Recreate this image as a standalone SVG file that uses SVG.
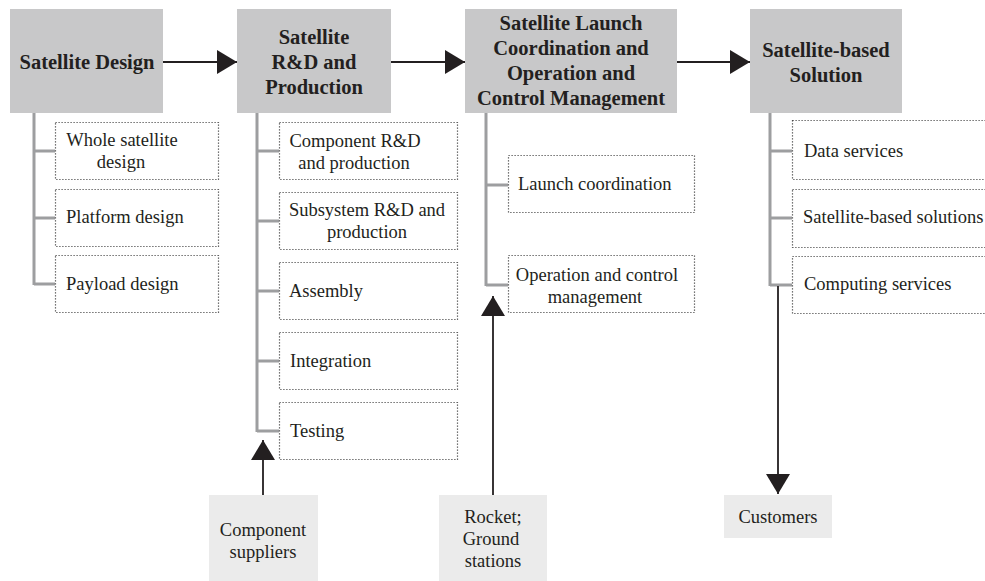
<svg xmlns="http://www.w3.org/2000/svg" width="985" height="581" viewBox="0 0 985 581">
  <defs>
    <marker id="arrow" markerUnits="userSpaceOnUse" markerWidth="22" markerHeight="26" refX="20" refY="12" orient="auto">
      <path d="M0,0 L20,12 L0,24 z" fill="#231f20"/>
    </marker>
    <style>
      .stage { fill: #c8c8c9; }
      .ext { fill: #ebebeb; }
      .item { fill: none; stroke: #4a4a4a; stroke-width: 1.2; stroke-dasharray: 1.2 1.8; }
      .tree { fill: none; stroke: #9d9ea0; stroke-width: 3; }
      .flow { fill: none; stroke: #231f20; stroke-width: 1.8; marker-end: url(#arrow); }
      text { font-family: "Liberation Serif", "Times New Roman", serif; fill: #231f20; }
      .h { font-size: 20.5px; font-weight: bold; text-anchor: middle; }
      .t { font-size: 18.5px; }
      .c { text-anchor: middle; }
    </style>
  </defs>

  <!-- connectors: tree branches and flow arrows -->
  <g id="connectors">
    <path class="tree" d="M34,113 V285 M34,151 H55 M34,218 H55 M34,284 H55"/>
    <path class="tree" d="M257,113 V432 M257,151 H279 M257,221 H279 M257,291 H279 M257,361 H279 M257,431 H279"/>
    <path class="tree" d="M486,113 V286 M486,185 H508 M486,285 H508"/>
    <path class="tree" d="M770,113 V286 M770,151 H792 M770,218 H792 M770,285 H792"/>
    <line class="flow" x1="163" y1="62" x2="237" y2="62"/>
    <line class="flow" x1="391" y1="62" x2="465" y2="62"/>
    <line class="flow" x1="677" y1="62" x2="750" y2="62"/>
    <line class="flow" x1="263" y1="495" x2="263" y2="440"/>
    <line class="flow" x1="493" y1="495" x2="493" y2="296"/>
    <line class="flow" x1="778" y1="286" x2="778" y2="494"/>
  </g>

  <!-- stage 1 -->
  <g id="satellite-design">
    <rect class="stage" x="10" y="9" width="153" height="104"/>
    <text class="h" x="87" y="69">Satellite Design</text>
  </g>
  <g id="whole-satellite-design">
    <rect class="item" x="55.5" y="122.5" width="163" height="57"/>
    <text class="t c" x="122" y="146">Whole satellite</text>
    <text class="t c" x="121" y="168">design</text>
  </g>
  <g id="platform-design">
    <rect class="item" x="55.5" y="189.5" width="163" height="57"/>
    <text class="t" x="66" y="223">Platform design</text>
  </g>
  <g id="payload-design">
    <rect class="item" x="55.5" y="255.5" width="163" height="57"/>
    <text class="t" x="66" y="290">Payload design</text>
  </g>

  <!-- stage 2 -->
  <g id="rd-production">
    <rect class="stage" x="237" y="9" width="154" height="104"/>
    <text class="h" x="314" y="44">Satellite</text>
    <text class="h" x="314" y="69">R&amp;D and</text>
    <text class="h" x="314" y="94">Production</text>
  </g>
  <g id="component-rd">
    <rect class="item" x="279.5" y="122.5" width="178" height="57"/>
    <text class="t c" x="355" y="147">Component R&amp;D</text>
    <text class="t c" x="354" y="169">and production</text>
  </g>
  <g id="subsystem-rd">
    <rect class="item" x="279.5" y="192.5" width="178" height="57"/>
    <text class="t c" x="367" y="216">Subsystem R&amp;D and</text>
    <text class="t c" x="367" y="238">production</text>
  </g>
  <g id="assembly">
    <rect class="item" x="279.5" y="262.5" width="178" height="57"/>
    <text class="t" x="289" y="297">Assembly</text>
  </g>
  <g id="integration">
    <rect class="item" x="279.5" y="332.5" width="178" height="57"/>
    <text class="t" x="290" y="367">Integration</text>
  </g>
  <g id="testing">
    <rect class="item" x="279.5" y="402.5" width="178" height="57"/>
    <text class="t" x="290" y="437">Testing</text>
  </g>
  <g id="component-suppliers">
    <rect class="ext" x="209" y="495" width="109" height="86"/>
    <text class="t c" x="263" y="536">Component</text>
    <text class="t c" x="263" y="558">suppliers</text>
  </g>

  <!-- stage 3 -->
  <g id="launch-operation">
    <rect class="stage" x="465" y="9" width="212" height="104"/>
    <text class="h" x="571" y="30">Satellite Launch</text>
    <text class="h" x="571" y="55">Coordination and</text>
    <text class="h" x="571" y="80">Operation and</text>
    <text class="h" x="571" y="105">Control Management</text>
  </g>
  <g id="launch-coordination">
    <rect class="item" x="508.5" y="155.5" width="186" height="57"/>
    <text class="t" x="518" y="190">Launch coordination</text>
  </g>
  <g id="operation-control">
    <rect class="item" x="508.5" y="255.5" width="186" height="57"/>
    <text class="t c" x="597" y="281">Operation and control</text>
    <text class="t c" x="595" y="303">management</text>
  </g>
  <g id="rocket-ground">
    <rect class="ext" x="439" y="495" width="108" height="86"/>
    <text class="t c" x="493" y="523">Rocket;</text>
    <text class="t c" x="491" y="545">Ground</text>
    <text class="t c" x="493" y="567">stations</text>
  </g>

  <!-- stage 4 -->
  <g id="satellite-solution">
    <rect class="stage" x="750" y="9" width="152" height="104"/>
    <text class="h" x="826" y="57">Satellite-based</text>
    <text class="h" x="826" y="82">Solution</text>
  </g>
  <g id="data-services">
    <rect class="item" x="792.5" y="120.5" width="210" height="59"/>
    <text class="t" x="804" y="157">Data services</text>
  </g>
  <g id="satellite-solutions">
    <rect class="item" x="792.5" y="189.5" width="210" height="58"/>
    <text class="t" x="803" y="223">Satellite-based solutions</text>
  </g>
  <g id="computing-services">
    <rect class="item" x="792.5" y="256.5" width="210" height="57"/>
    <text class="t" x="804" y="290">Computing services</text>
  </g>
  <g id="customers">
    <rect class="ext" x="724" y="495" width="108" height="43"/>
    <text class="t c" x="778" y="523">Customers</text>
  </g>
</svg>
